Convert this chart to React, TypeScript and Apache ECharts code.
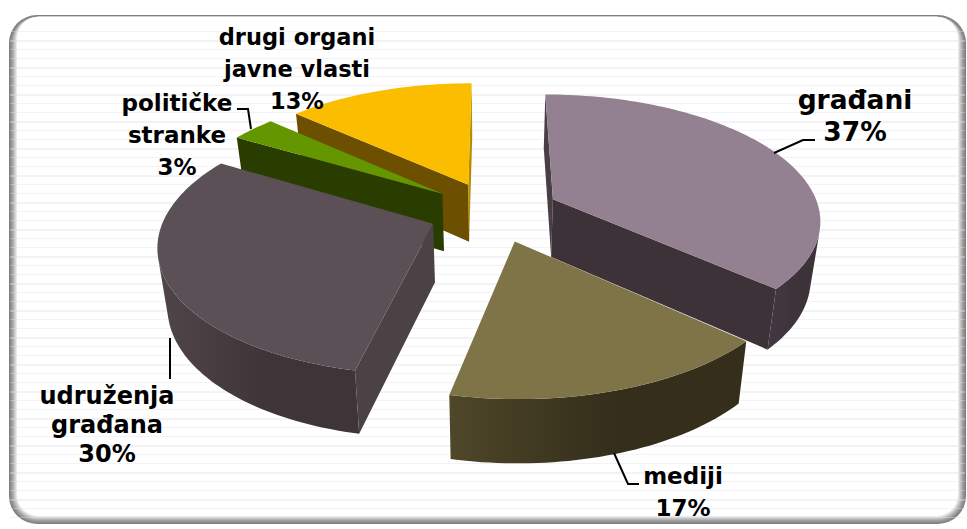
import React, { useEffect, useRef } from "react";
import * as echarts from "echarts";

// ---- data (clockwise from 12 o'clock) ----
const categories = ["građani", "mediji", "udruženja\ngrađana", "političke\nstranke", "drugi organi\njavne vlasti"];
const shares = [36.7, 16.7, 30.1, 3.2, 13.3];
const percentLabels = ["37%", "17%", "30%", "3%", "13%"];
const topColors = ["#938090", "#7e7448", "#5a5056", "#649600", "#fbbd00"];
const wallFromColors = ["#3e3239", "#342e1b", "#3e3538", "#2a3d00", "#b98c00"];
const wallToColors = ["#423640", "#4e4729", "#504649", "#2a3d00", "#b98c00"];
const startWallColors = ["#4a3e46", "#342e1b", "#4a4245", "#2a3d00", "#6c5000"];
const endWallColors = ["#3e3239", "#342e1b", "#4a4245", "#2a3d00", "#b98c00"];
const drawOrder = [4, 3, 2, 0, 1];

// ---- projection of the tilted, exploded pie ----
const CX = 494, CY = 211.5, RX = 267, RY = 124, PERSP = 0.15, EXPLODE = 0.245, DEPTH = 58, DRIFT = 0.03;

const LABEL_LAYOUT = [
  { x: 855, y: 115, lh: 32, size: 26.5 },
  { x: 683, y: 492, lh: 32, size: 23 },
  { x: 107, y: 425, lh: 29, size: 24 },
  { x: 177, y: 135, lh: 32, size: 23 },
  { x: 297, y: 69, lh: 32, size: 22.5 },
];
const LEADERS = [
  [[774, 153], [803, 140], [815, 140]],
  [[614, 453], [628, 484], [639, 484]],
  [[170, 338], [170, 379]],
  [[251, 129], [248, 109], [237, 109]],
  [],
];

type P = [number, number];

function project(X: number, Y: number): P {
  const s = 1 / (1 + PERSP * Y);
  return [CX + RX * X * s, CY - RY * Y * s];
}
function drop(X: number, Y: number): P {
  const s = 1 / (1 + PERSP * Y);
  const p = project(X, Y);
  return [p[0] + (CX - p[0]) * DRIFT, p[1] + DEPTH * Math.sqrt(s)];
}
function area(q: P[]) {
  let a = 0;
  for (let i = 0; i < q.length; i++) {
    const u = q[i], v = q[(i + 1) % q.length];
    a += u[0] * v[1] - v[0] * u[1];
  }
  return a;
}
function faceQuad(u: P, v: P): P[] {
  return [project(u[0], u[1]), project(v[0], v[1]), drop(v[0], v[1]), drop(u[0], u[1])];
}

function renderSlice(_: any, api: any) {
  const idx = api.value(0) as number;
  const total = shares.reduce((a, b) => a + b, 0);
  let acc = 0;
  for (let i = 0; i < idx; i++) acc += shares[i];
  const a0 = (acc / total) * Math.PI * 2;
  const a1 = ((acc + shares[idx]) / total) * Math.PI * 2;
  const mid = (a0 + a1) / 2;
  const ox = EXPLODE * Math.sin(mid), oy = EXPLODE * Math.cos(mid);

  const steps = Math.max(8, Math.round((a1 - a0) * 40));
  const rim: P[] = [];
  for (let i = 0; i <= steps; i++) {
    const a = a0 + ((a1 - a0) * i) / steps;
    rim.push([ox + Math.sin(a), oy + Math.cos(a)]);
  }
  const apex: P = [ox, oy];
  const children: any[] = [];
  let z = 10 + drawOrder.indexOf(idx) * 100;

  const flat = (u: P, v: P, fill: string) => {
    const pts = faceQuad(u, v);
    if (area(pts) >= 0) return;
    children.push({ type: "polygon", z2: z++, shape: { points: pts }, style: { fill } });
  };
  flat(apex, rim[0], startWallColors[idx]);
  flat(rim[steps], apex, endWallColors[idx]);

  // outer wall: one polygon per contiguous run of camera-facing rim segments
  let run: P[] = [];
  const flush = () => {
    if (run.length < 2) { run = []; return; }
    const tops = run.map((p) => project(p[0], p[1]));
    const bottoms = run.map((p) => drop(p[0], p[1])).reverse();
    const xs = tops.map((p) => p[0]);
    children.push({
      type: "polygon",
      z2: z++,
      shape: { points: [...tops, ...bottoms] },
      style: {
        fill: {
          type: "linear",
          global: true,
          x: xs[0],
          y: 0,
          x2: xs[xs.length - 1],
          y2: 0,
          colorStops: [
            { offset: 0, color: wallFromColors[idx] },
            { offset: 0.45, color: wallFromColors[idx] },
            { offset: 1, color: wallToColors[idx] },
          ],
        },
      },
    });
    run = [];
  };
  for (let i = 0; i < steps; i++) {
    if (area(faceQuad(rim[i], rim[i + 1])) < 0) {
      if (!run.length) run.push(rim[i]);
      run.push(rim[i + 1]);
    } else flush();
  }
  flush();

  children.push({
    type: "polygon",
    z2: z++,
    shape: { points: [apex, ...rim].map((p) => project(p[0], p[1])) },
    style: { fill: topColors[idx] },
  });

  const lay = LABEL_LAYOUT[idx];
  children.push({
    type: "text",
    z2: 5000,
    style: {
      text: `${categories[idx]}\n${percentLabels[idx]}`,
      x: lay.x,
      y: lay.y,
      align: "center",
      verticalAlign: "middle",
      fill: "#000",
      font: `bold ${lay.size}px "DejaVu Sans", Verdana, sans-serif`,
      lineHeight: lay.lh,
    },
  });
  if (LEADERS[idx].length) {
    children.push({
      type: "polyline",
      z2: 4999,
      shape: { points: LEADERS[idx] },
      style: { stroke: "#000", lineWidth: 2, fill: "none" },
    });
  }
  return { type: "group", children };
}

function backdrop() {
  const els: any[] = [];
  const steps = 9;
  for (let i = 0; i < steps; i++) {
    const t = i / (steps - 1);
    const g = Math.round(128 + 127 * Math.pow(t, 1.3));
    els.push({
      type: "rect",
      z: 0,
      z2: i,
      shape: {
        x: 9 + i,
        y: 15 + Math.min(i, 2) * 0.9,
        width: 957 - 2 * i,
        height: 509 - i - Math.min(i, 2) * 0.9,
        r: Math.max(28 - i * 0.8, 6),
      },
      style: { fill: `rgb(${g},${g},${g})` },
      silent: true,
    });
  }
  for (let y = 31, k = 0; y < 522; y += 9, k++) {
    els.push({
      type: "rect",
      z: 0,
      z2: 20,
      shape: { x: 10, y, width: 955, height: k % 3 === 1 ? 2 : 1 },
      style: { fill: "rgba(226,222,234,0.4)" },
      silent: true,
    });
  }
  return els;
}

export default function App() {
  const ref = useRef<HTMLDivElement>(null);
  useEffect(() => {
    const chart = echarts.init(ref.current!, undefined, { renderer: "svg" });
    chart.setOption({
      animation: false,
      backgroundColor: "#ffffff",
      graphic: { elements: backdrop() },
      series: [
        {
          type: "custom",
          coordinateSystem: "none",
          z: 5,
          clip: false,
          silent: true,
          data: drawOrder.map((i) => [i]),
          encode: { value: 0 },
          renderItem: renderSlice,
        },
      ],
    });
    return () => chart.dispose();
  }, []);
  return <div ref={ref} style={{ position: "fixed", left: 0, top: 0, width: 967, height: 529 }} />;
}
